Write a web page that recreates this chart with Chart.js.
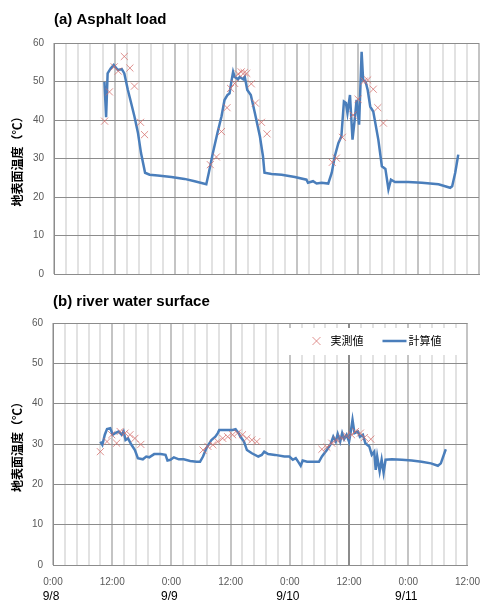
<!DOCTYPE html>
<html>
<head>
<meta charset="utf-8">
<script src="https://cdn.jsdelivr.net/npm/chart.js@4.4.1/dist/chart.umd.min.js"></script>
<style>
body { margin: 0; background: #fff; }
#wrapA { position: absolute; left: 0; top: 0; width: 491px; height: 290px; }
#wrapB { position: absolute; left: 0; top: 290px; width: 491px; height: 315px; }
</style>
</head>
<body>
<div id="wrapA"><canvas id="chartA"></canvas></div>
<div id="wrapB"><canvas id="chartB"></canvas></div>
<script>

// hours counted from 9/8 0:00
const calcHoursA = [9.97, 10.3, 10.6, 11.2, 11.8, 12.6, 13.4, 13.9, 14.6, 15.1, 15.9, 16.6, 17.2, 18.0, 18.9, 20.5, 23.2, 25.8, 27.8, 30.1,
    30.6, 31.4, 32.3, 33.1, 33.7, 34.3, 34.7, 35.0, 35.4, 35.7, 36.4, 36.7, 37.4, 37.7, 38.2, 38.9, 39.7, 40.7, 41.3, 41.6,
    43.0, 45.0, 47.6, 49.9, 50.2, 51.2, 51.9, 52.9, 54.2, 54.9, 55.5, 56.2, 56.8, 57.3, 57.7, 58.0, 58.5, 59.0, 59.5, 59.8,
    60.3, 60.8, 61.1, 61.6, 62.0, 62.5, 63.1, 64.1, 64.8, 65.5, 66.1, 66.6, 67.4, 70.0, 72.7, 76.0, 77.3, 78.3, 78.7, 79.3, 79.9];
const calcTempA = [49.9, 40.7, 52.1, 53.4, 54.3, 53.0, 53.2, 52.1, 47.8, 45.2, 40.9, 36.6, 31.4, 26.3, 25.8, 25.6, 25.2, 24.7, 24.1, 23.3,
    26.3, 31.4, 36.6, 40.9, 45.2, 46.5, 46.9, 49.5, 52.5, 51.2, 50.6, 51.2, 50.6, 51.2, 47.8, 46.5, 41.8, 35.7, 30.6, 26.3,
    26.0, 25.8, 25.2, 24.5, 23.7, 24.1, 23.5, 23.7, 23.5, 26.3, 30.6, 34.0, 35.7, 44.8, 44.4, 41.8, 46.5, 34.9, 40.9, 45.2,
    38.8, 57.7, 50.4, 49.9, 47.8, 43.5, 42.2, 34.9, 28.0, 27.3, 22.0, 24.5, 23.9, 23.9, 23.7, 23.3, 22.8, 22.4, 22.8, 26.3, 31.0];
const obsHoursA = [10.0, 10.95, 11.9, 12.7, 13.9, 15.0, 15.9, 17.1, 17.9, 30.9, 32.1, 33.1, 34.2, 34.9, 35.7, 36.4, 37.0, 37.6, 38.1,
    39.0, 39.8, 41.0, 42.1, 55.0, 55.8, 57.0, 59.1, 60.1, 61.3, 62.0, 63.1, 64.0, 65.1];
const obsTempA = [39.7, 47.3, 53.8, 52.7, 56.5, 53.5, 48.8, 39.4, 36.2, 28.4, 30.4, 37.0, 43.2, 48.2, 49.5, 52.0, 52.5, 52.3, 52.1,
    49.4, 44.4, 39.4, 36.4, 29.0, 30.1, 35.5, 41.3, 45.4, 50.1, 50.4, 48.0, 43.2, 39.2];

const calcHoursB = [9.6, 10.0, 10.5, 10.95, 11.6, 12.1, 12.6, 13.3, 13.9, 14.3, 14.7, 15.2, 15.9, 16.6, 17.2, 18.2, 18.9, 19.5, 20.5, 21.8,
    22.8, 23.2, 23.8, 24.5, 25.5, 26.5, 27.8, 29.1, 29.8, 30.4, 31.1, 32.1, 32.9, 33.4, 33.7, 35.0, 36.4, 37.0, 37.6, 38.0,
    38.7, 39.3, 40.3, 41.6, 42.3, 42.8, 43.6, 45.0, 46.9, 47.9, 48.6, 49.2, 49.9, 50.2, 50.6, 51.5, 52.9, 53.9, 54.5, 55.5,
    56.2, 56.8, 57.3, 57.7, 58.2, 58.6, 59.0, 59.5, 60.0, 60.3, 60.7, 61.1, 61.8, 62.2, 62.8, 63.3, 64.1, 64.6, 65.1, 65.4,
    65.7, 66.2, 66.6, 67.0, 67.4, 68.7, 70.7, 72.7, 74.7, 76.6, 78.0, 78.6, 79.6];
const calcTempB = [30.6, 29.8, 32.3, 33.7, 33.9, 32.3, 32.7, 33.1, 32.3, 33.1, 31.0, 31.4, 29.8, 28.5, 26.5, 26.2, 26.9, 26.7, 27.5, 27.5,
    27.3, 25.9, 26.1, 26.7, 26.2, 26.2, 25.8, 25.6, 25.6, 26.9, 29.0, 31.0, 31.8, 32.7, 33.5, 33.5, 33.5, 33.7, 32.7, 31.8,
    30.6, 28.5, 27.7, 26.9, 27.3, 28.1, 27.5, 27.3, 26.9, 26.9, 26.1, 26.5, 25.2, 24.6, 25.9, 25.6, 25.6, 25.6, 26.9, 28.5,
    29.8, 31.8, 30.6, 32.5, 30.6, 32.7, 31.2, 32.3, 30.6, 32.7, 36.0, 32.7, 33.1, 31.8, 32.3, 30.2, 29.4, 27.3, 28.1, 23.6,
    26.9, 23.2, 26.1, 22.9, 26.1, 26.2, 26.1, 25.9, 25.6, 25.2, 24.6, 25.2, 28.7];
const obsHoursB = [9.6, 10.95, 11.9, 12.9, 13.6, 14.6, 15.6, 16.6, 17.8, 30.4, 31.4, 32.4, 33.4, 34.4, 35.4, 36.4, 37.4, 38.4, 39.3, 40.3, 41.3,
    54.5, 55.5, 56.5, 57.5, 58.5, 59.5, 60.5, 61.3, 62.3, 63.1, 64.4];
const obsTempB = [28.1, 30.6, 32.3, 30.2, 33.1, 32.7, 32.3, 31.4, 29.9, 28.5, 29.4, 29.8, 30.6, 31.4, 31.8, 32.3, 32.7, 32.3, 31.4, 31.0, 30.6,
    28.7, 29.2, 30.2, 31.0, 31.5, 32.0, 32.3, 33.1, 32.7, 31.6, 31.2];

const seriesLabels = ['実測値', '計算値'];
const dateLabels = ['9/8', '9/9', '9/10', '9/11'];
const dateHours = [0, 24, 48, 72];
const yTitle = '地表面温度（℃）';

const lineBlue = '#4a7ebb';
const crossRed = 'rgba(212, 108, 106, 0.75)';

function isMajor(v) {
    return Math.abs(v / 12 - Math.round(v / 12)) < 1e-6;
}

function pairs(xs, ys) {
    return xs.map((x, i) => ({ x: x, y: ys[i] }));
}

function makeConfig(title, calcX, calcY, obsX, obsY, opts) {
    return {
        type: 'line',
        data: {
            datasets: [
                {
                    label: seriesLabels[0],
                    data: pairs(obsX, obsY),
                    showLine: false,
                    pointStyle: 'crossRot',
                    pointRadius: 5,
                    borderWidth: 1,
                    borderColor: crossRed,
                    backgroundColor: 'transparent'
                },
                {
                    label: seriesLabels[1],
                    data: pairs(calcX, calcY),
                    borderColor: lineBlue,
                    borderWidth: 2.5,
                    pointRadius: 0,
                    tension: 0,
                    fill: false
                }
            ]
        },
        options: {
            responsive: true,
            maintainAspectRatio: false,
            animation: false,
            layout: { padding: opts.padding },
            plugins: {
                legend: { display: false },
                tooltip: { enabled: false },
                title: {
                    display: true,
                    text: title,
                    align: 'start',
                    fullSize: false,
                    color: '#000',
                    font: { family: 'Liberation Sans', size: 15, weight: 'bold' },
                    padding: opts.titlePadding
                }
            },
            scales: {
                x: {
                    type: 'linear',
                    min: 0,
                    max: 84,
                    border: { color: '#8c8c8c' },
                    grid: {
                        drawTicks: false,
                        lineWidth: 2,
                        color: ctx => {
                            const v = ctx.tick ? ctx.tick.value : 0;
                            if (opts.darkLine !== undefined && Math.abs(v - opts.darkLine) < 1e-6) return '#8c8c8c';
                            return isMajor(v) ? '#c4c4c4' : '#e2e2e2';
                        }
                    },
                    ticks: {
                        display: opts.showTime,
                        stepSize: 2.4,
                        autoSkip: false,
                        maxRotation: 0,
                        padding: 11,
                        color: '#595959',
                        font: { family: 'Liberation Sans', size: 10 },
                        callback: v => {
                            if (!isMajor(v)) return '';
                            return (Math.round(v) % 24 === 0) ? '0:00' : '12:00';
                        }
                    },
                    afterFit: s => { s.height = opts.xHeight; }
                },
                y: {
                    min: 0,
                    max: 60,
                    border: { color: '#8c8c8c' },
                    grid: { drawTicks: false, color: '#8c8c8c', lineWidth: 1 },
                    ticks: {
                        stepSize: 10,
                        padding: 10,
                        color: '#595959',
                        font: { family: 'Liberation Sans', size: 10 }
                    },
                    title: {
                        display: true,
                        text: yTitle,
                        color: '#000',
                        font: { family: 'Noto Sans CJK JP', size: 12, weight: 'bold' },
                        padding: { top: 10, bottom: 0 }
                    },
                    afterFit: s => { s.width = opts.yWidth; }
                }
            }
        },
        plugins: opts.plugins
    };
}

// legend box sitting inside the plot, top right
const insideLegend = {
    id: 'insideLegend',
    afterDatasetsDraw(chart) {
        const a = chart.chartArea;
        const c = chart.ctx;
        const y = a.top + 18;
        c.save();
        c.fillStyle = '#fff';
        c.fillRect(a.right - 187, a.top + 5, 184, 27);
        const cx = a.right - 151;
        c.strokeStyle = crossRed;
        c.lineWidth = 1;
        c.beginPath();
        c.moveTo(cx - 4, y - 4); c.lineTo(cx + 4, y + 4);
        c.moveTo(cx + 4, y - 4); c.lineTo(cx - 4, y + 4);
        c.stroke();
        c.strokeStyle = lineBlue;
        c.lineWidth = 2.5;
        c.beginPath();
        c.moveTo(a.right - 85, y); c.lineTo(a.right - 61, y);
        c.stroke();
        c.fillStyle = '#000';
        c.font = '11px "Noto Sans CJK JP"';
        c.textAlign = 'left';
        c.textBaseline = 'middle';
        c.fillText(chart.data.datasets[0].label, a.right - 137, y);
        c.fillText(chart.data.datasets[1].label, a.right - 59, y);
        c.restore();
    }
};

// second line of the x labels: the dates under each 0:00
const dateRow = {
    id: 'dateRow',
    afterDraw(chart) {
        const sx = chart.scales.x;
        const c = chart.ctx;
        c.save();
        c.fillStyle = '#000';
        c.font = '12px "Liberation Sans"';
        c.textAlign = 'center';
        c.textBaseline = 'middle';
        dateHours.forEach((h, i) => {
            c.fillText(dateLabels[i], sx.getPixelForValue(h) - 2, sx.top + 32);
        });
        c.restore();
    }
};

const chartA = new Chart(document.getElementById('chartA'), makeConfig(
    '(a) Asphalt load', calcHoursA, calcTempA, obsHoursA, obsTempA, {
        padding: { top: 11, right: 12, bottom: 0, left: 0 },
        titlePadding: { top: 0, bottom: 14 },
        showTime: false,
        xHeight: 15,
        yWidth: 54,
        plugins: []
    }));

const chartB = new Chart(document.getElementById('chartB'), makeConfig(
    '(b) river water surface', calcHoursB, calcTempB, obsHoursB, obsTempB, {
        padding: { top: 3, right: 14, bottom: 0, left: 0 },
        titlePadding: { top: 0, bottom: 12 },
        showTime: true,
        xHeight: 40,
        yWidth: 53,
        darkLine: 60,
        plugins: [insideLegend, dateRow]
    }));

</script>
</body>
</html>
